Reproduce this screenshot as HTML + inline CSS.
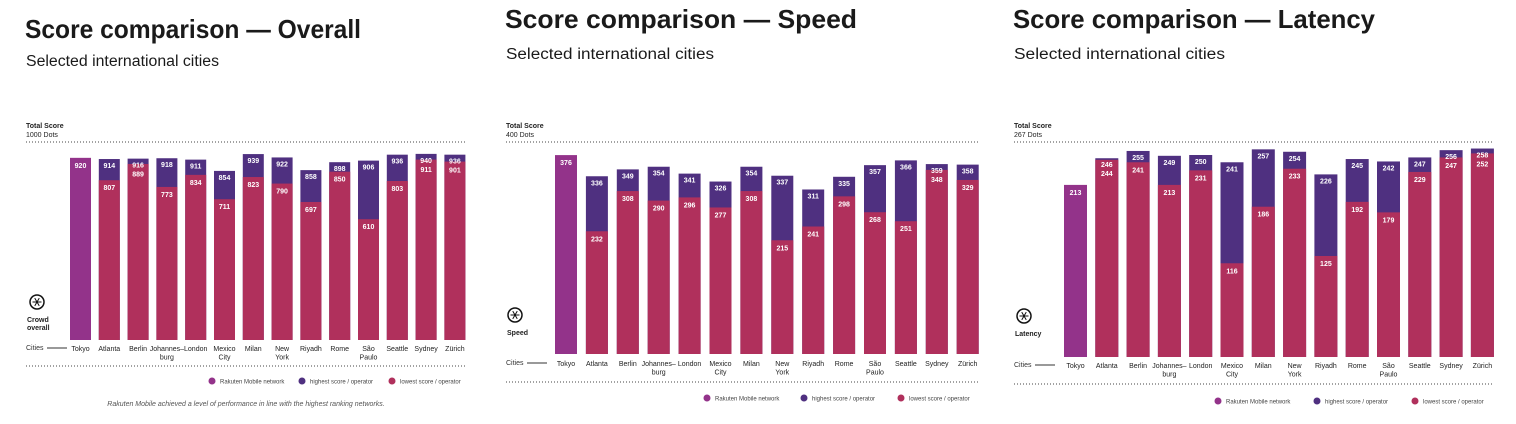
<!DOCTYPE html>
<html><head><meta charset="utf-8">
<style>
html,body{margin:0;padding:0;background:#fff;}
body{width:1516px;height:424px;overflow:hidden;font-family:"Liberation Sans",sans-serif;}
svg{position:absolute;left:0;top:0;}
.t{font-weight:bold;font-size:26px;fill:#1a1a1a;}
.s{font-size:15.5px;fill:#1a1a1a;}
</style></head>
<body>
<svg id="svg" width="1516" height="424" xmlns="http://www.w3.org/2000/svg">
<text class="t" x="25" y="38" textLength="336" lengthAdjust="spacingAndGlyphs">Score comparison — Overall</text>
<text class="s" x="26" y="66" textLength="193" lengthAdjust="spacingAndGlyphs">Selected international cities</text>
<text class="t" x="505" y="28" textLength="352" lengthAdjust="spacingAndGlyphs">Score comparison — Speed</text>
<text class="s" x="506" y="59" textLength="208" lengthAdjust="spacingAndGlyphs">Selected international cities</text>
<text class="t" x="1013" y="28" textLength="362" lengthAdjust="spacingAndGlyphs">Score comparison — Latency</text>
<text class="s" x="1014" y="59" textLength="211" lengthAdjust="spacingAndGlyphs">Selected international cities</text>
<text x="246" y="406" text-anchor="middle" font-size="7" font-style="italic" fill="#555">Rakuten Mobile achieved a level of performance in line with the highest ranking networks.</text>
</svg>
<script>
const cities = ["Tokyo","Atlanta","Berlin","Johannes–|burg","London","Mexico|City","Milan","New|York","Riyadh","Rome","São|Paulo","Seattle","Sydney","Zürich"];
const overallTokyo = 920;
const overallHigh = [914,916,918,911,854,939,922,858,898,906,936,940,936];
const overallLow = [807,889,773,834,711,823,790,697,850,610,803,911,901];
const speedTokyo = 376;
const speedHigh = [336,349,354,341,326,354,337,311,335,357,366,359,358];
const speedLow = [232,308,290,296,277,308,215,241,298,268,251,348,329];
const latencyTokyo = 213;
const latencyHigh = [246,255,249,250,241,257,254,226,245,242,247,256,258];
const latencyLow = [244,241,213,231,116,186,233,125,192,179,229,247,252];

const C_RAK="#93338a", C_HI="#4f3080", C_LO="#b0305c";
const svg=document.getElementById('svg');
const NS="http://www.w3.org/2000/svg";
function mk(tag,attrs,parent){const e=document.createElementNS(NS,tag);for(const k in attrs)e.setAttribute(k,attrs[k]);(parent||svg).appendChild(e);return e;}
function txt(x,y,s,attrs,parent){const e=mk('text',Object.assign({x:x,y:y},attrs),parent);e.textContent=s;return e;}

function chart(cfg){
  const g=mk('g',{});
  
  
  const yS=v=>cfg.base-v*cfg.scale;
  const xS=i=>cfg.x0+i*cfg.pitch;
  const h1=txt(cfg.dotL,128,"Total Score",{'font-size':7,'font-weight':'bold',fill:'#222'},g);
  
  
  txt(cfg.dotL,137,cfg.dots,{'font-size':7,fill:'#222'},g);
  const d1=mk('line',{x1:cfg.dotL,x2:cfg.dotR,y1:142,y2:142,stroke:'#444','stroke-width':1,'stroke-dasharray':'1 2'},g);
  
  
  const d2=mk('line',{x1:cfg.dotL,x2:cfg.dotR,y1:cfg.bot,y2:cfg.bot,stroke:'#444','stroke-width':1,'stroke-dasharray':'1 2'},g);
  
  
  const ic=mk('g',{},g);
  
  
  mk('circle',{cx:cfg.iconX,cy:cfg.iconY,r:7,fill:'none',stroke:'#111','stroke-width':1.5},ic);
  for(let k=0;k<6;k++){const a=k*Math.PI/3;mk('line',{x1:cfg.iconX,y1:cfg.iconY,x2:cfg.iconX+4.5*Math.cos(a),y2:cfg.iconY+4.5*Math.sin(a),stroke:'#111','stroke-width':1},ic);}
  cfg.iconLabel.forEach((l,j)=>txt(cfg.dotL+1,cfg.iconY+20+j*8,l,{'font-size':7,'font-weight':'bold',fill:'#222'},g));
  txt(cfg.dotL,cfg.cityY-1,"Cities",{'font-size':7,fill:'#333'},g);
  mk('line',{x1:cfg.dotL+21,x2:cfg.dotL+41,y1:cfg.cityY-3,y2:cfg.cityY-3,stroke:'#333','stroke-width':1},g);
  const bw=cfg.bw;
  cities.forEach((c,i)=>{
    const x=xS(i);
    const lab=(v,y)=>{const t=txt(x+bw/2,y,v,{'font-size':7,'font-weight':'bold',fill:'#fff','text-anchor':'middle'},g);return t;};
    if(i===0){
      const r=mk('rect',{x:x,y:yS(cfg.tokyo),width:bw,height:cfg.base-yS(cfg.tokyo),fill:C_RAK},g);
      
      
      lab(cfg.tokyo,yS(cfg.tokyo)+10);
    } else {
      const hi=cfg.high[i-1], lo=cfg.low[i-1];
      const r1=mk('rect',{x:x,y:yS(hi),width:bw,height:cfg.base-yS(hi),fill:C_HI},g);
      
      
      const r2=mk('rect',{x:x,y:yS(lo),width:bw,height:cfg.base-yS(lo),fill:C_LO},g);
      
      
      const hy=yS(hi)+9;
      lab(hi,hy);
      lab(lo,Math.max(yS(lo)+10,hy+9));
    }
    const parts=c.split('|');
    parts.forEach((p,j)=>{const t=txt(x+bw/2,cfg.cityY+j*8.5,p,{'font-size':7,fill:'#222','text-anchor':'middle'},g);
      if(j===0){}});
  });
  const L=[["Rakuten Mobile network",C_RAK],["highest score / operator",C_HI],["lowest score / operator",C_LO]];
  L.forEach((l,j)=>{
    const lg=mk('g',{},g);
    
    
    mk('circle',{cx:cfg.legX[j],cy:cfg.legY,r:3.5,fill:l[1]},lg);
    txt(cfg.legX[j]+8,cfg.legY+2.3,l[0],{'font-size':6,fill:'#444'},lg);
  });
}
chart({name:'overall',tokyo:overallTokyo,high:overallHigh,low:overallLow,x0:70,pitch:28.8,bw:21,base:340,scale:0.198,
  dotL:26,dotR:465,bot:366,cityY:351,legX:[212,302,392],legY:381,iconX:37,iconY:302,iconLabel:["Crowd","overall"],dots:"1000 Dots"});
chart({name:'speed',tokyo:speedTokyo,high:speedHigh,low:speedLow,x0:555,pitch:30.9,bw:22,base:354,scale:0.529,
  dotL:506,dotR:979,bot:382,cityY:366,legX:[707,804,901],legY:398,iconX:515,iconY:315,iconLabel:["Speed"],dots:"400 Dots"});
chart({name:'latency',tokyo:latencyTokyo,high:latencyHigh,low:latencyLow,x0:1064,pitch:31.3,bw:23,base:357,scale:0.808,
  dotL:1014,dotR:1494,bot:384,cityY:368,legX:[1218,1317,1415],legY:401,iconX:1024,iconY:316,iconLabel:["Latency"],dots:"267 Dots"});
</script>
</body></html>
